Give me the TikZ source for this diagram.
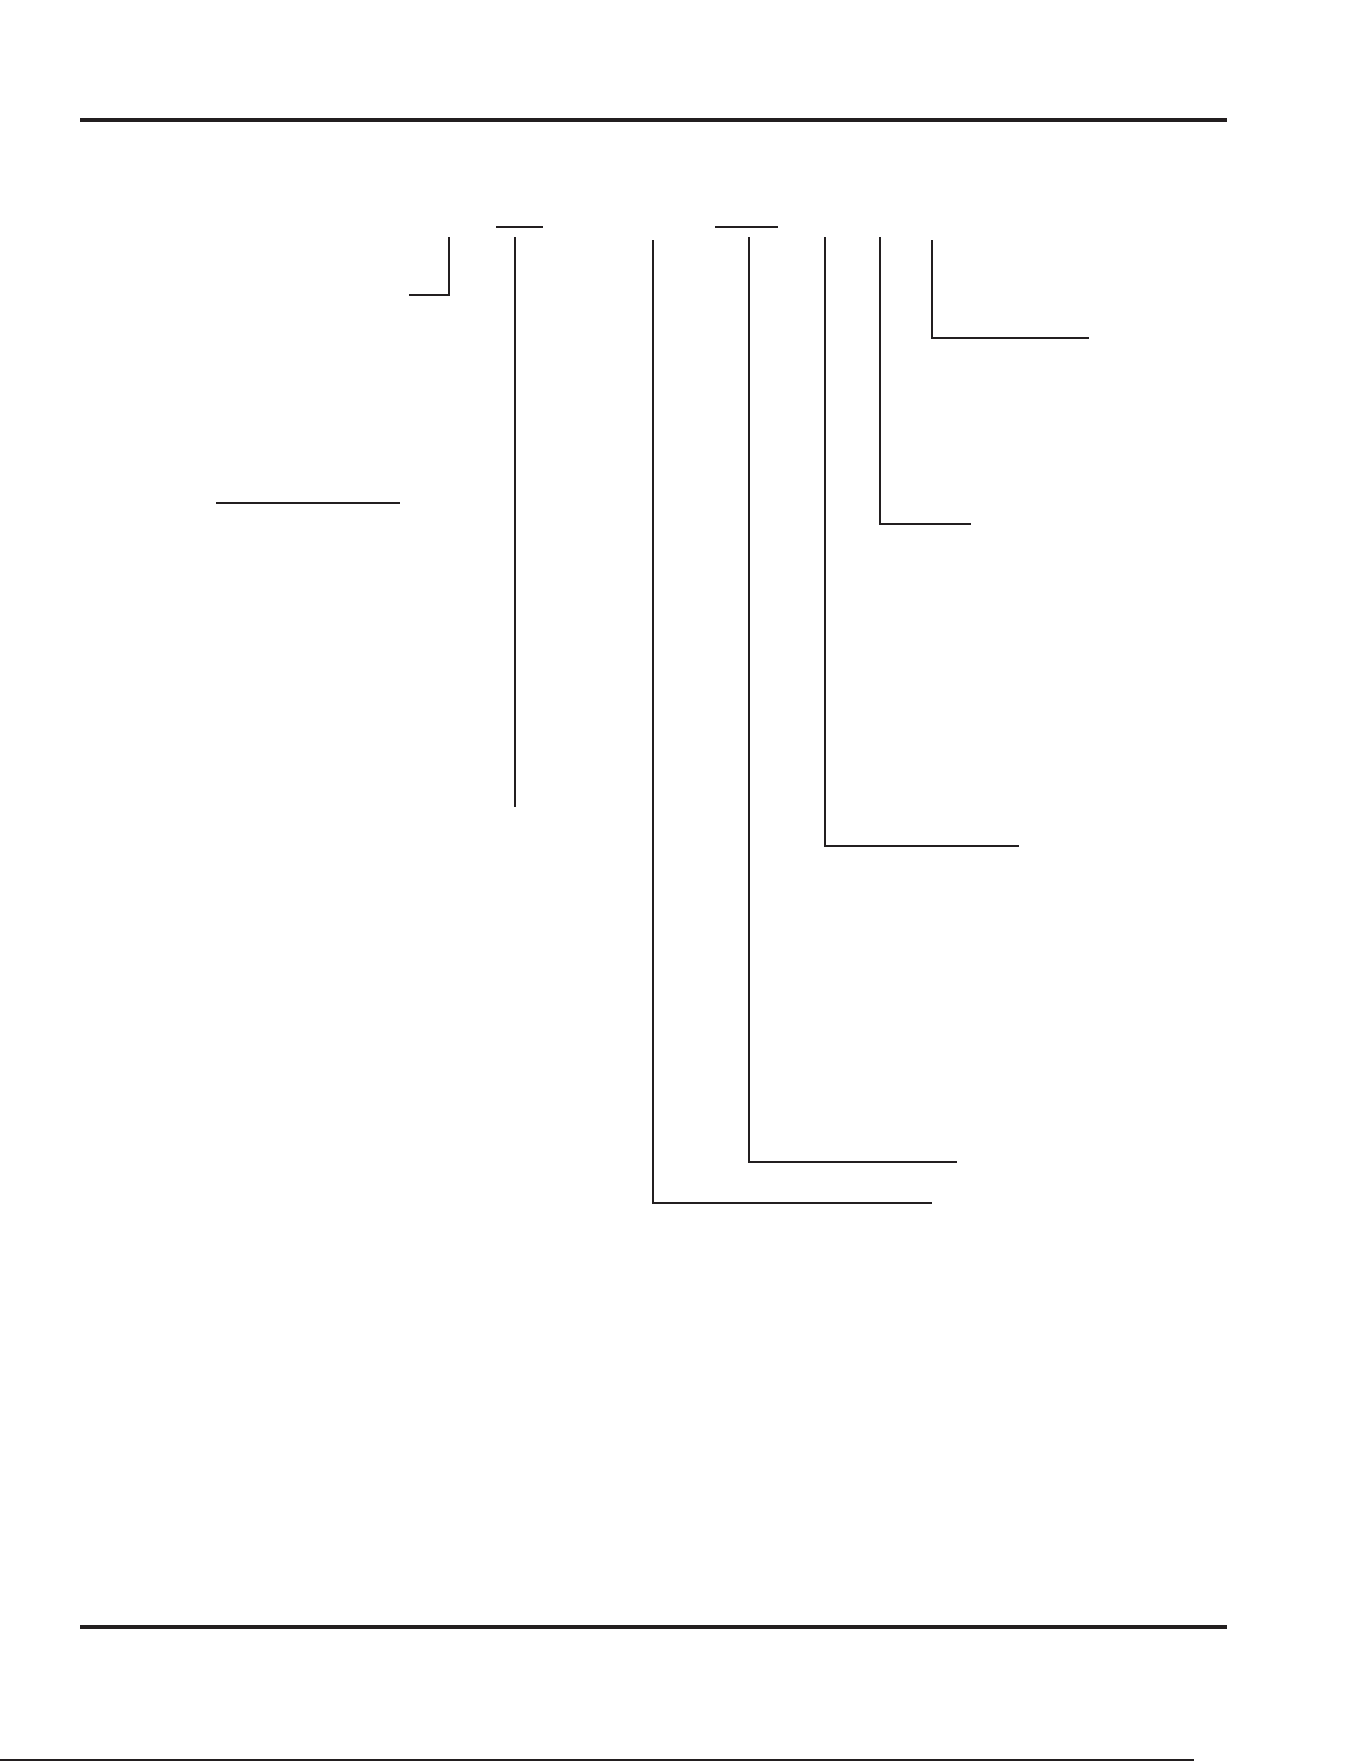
\documentclass[tikz,border=0pt]{standalone}
\usetikzlibrary{
  calc,
  positioning
}
\definecolor{ink}{RGB}{35,31,32}
\tikzset{
%
  % For the page rules.
  rule/.style={
    ink,
    line width=1.65pt},
%
  % For short underlines and bars.
  bar/.style={
    ink,
    line width=1pt},
%
  % For leader lines.
  leader/.style={
    ink,
    line width=0.6pt}
}

\begin{document}
\begin{tikzpicture}[x=0.5pt, y=-0.5pt]
  \useasboundingbox (0,0) rectangle (1361,1761);

  % page rules
  \coordinate (TL) at (80,120);
  \coordinate (TR) at (1227,120);
  \coordinate (BL) at (80,1627);
  \coordinate (BR) at (1227,1627);
  \draw[rule] (TL) -- (TR);
  \draw[rule] (BL) -- (BR);
  \coordinate (E1) at (0,1760);
  \coordinate (E2) at (1194,1760);
  \draw[leader] (E1) -- (E2);

  % underlines
  \coordinate (U1a) at (496,227);
  \coordinate (U1b) at (543,227);
  \coordinate (U2a) at (715,227);
  \coordinate (U2b) at (778,227);
  \draw[bar] (U1a) -- (U1b);
  \draw[bar] (U2a) -- (U2b);
  \coordinate (Ra) at (216,503);
  \coordinate (Rb) at (400,503);
  \draw[bar, line width=1.15pt] (Ra) -- (Rb);

  % bracket
  \coordinate (K1) at (449,237);
  \coordinate (K2) at (409,295);
  \draw[leader, line width=1pt] (K1) |- (K2);

  % straight leader
  \coordinate (S1) at (515,237);
  \coordinate (S2) at (515,807);
  \draw[leader] (S1) -- (S2);

  % elbow leaders
  \foreach \n/\x/\t/\b/\e in {a/653/240/1203/932,
                              b/749/237/1162/957,
                              c/825/237/846/1019,
                              d/880/237/524/971,
                              e/932/240/338/1089} {
    \coordinate (L\n) at (\x,\t);
    \coordinate (M\n) at (\e,\b);
    \draw[leader] (L\n) |- (M\n);
  }
\end{tikzpicture}
\end{document}
